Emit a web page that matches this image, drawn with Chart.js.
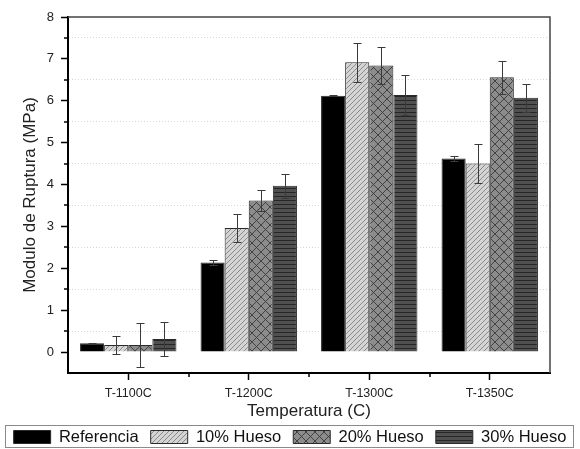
<!DOCTYPE html>
<html><head><meta charset="utf-8">
<script src="https://cdn.jsdelivr.net/npm/chart.js@4/dist/chart.umd.min.js"></script>
<style>html,body{margin:0;padding:0;background:#fff}#wrap{width:580px;height:449px}</style>
</head><body><div id="wrap"><canvas id="c" width="580" height="449"></canvas></div>
<script>
const categories = ['T-1100C','T-1200C','T-1300C','T-1350C'];
const seriesNames = ['Referencia','10% Hueso','20% Hueso','30% Hueso'];
const referencia = [0.21, 2.14, 6.12, 4.62];
const hueso10 = [0.17, 2.96, 6.92, 4.50];
const hueso20 = [0.17, 3.62, 6.84, 6.56];
const hueso30 = [0.31, 3.97, 6.14, 6.07];
const errReferencia = [0.01, 0.06, 0.01, 0.07];
const errHueso10 = [0.21, 0.33, 0.47, 0.47];
const errHueso20 = [0.53, 0.25, 0.45, 0.40];
const errHueso30 = [0.40, 0.29, 0.47, 0.34];
const yMin = -0.5, yMax = 8, yStep = 0.5;

const FONT = 'Liberation Sans, Arial, sans-serif';

function makePattern(size, base, line, lw, drawFn){
  const c = document.createElement('canvas');
  c.width = size[0]; c.height = size[1];
  const g = c.getContext('2d');
  g.fillStyle = base; g.fillRect(0,0,size[0],size[1]);
  g.strokeStyle = line; g.lineWidth = lw;
  drawFn(g, size[0], size[1]);
  return g.createPattern(c,'repeat');
}
const patDiag = makePattern([5,5], '#d4d4d4', '#8a8a8a', 1, (g,w,h)=>{
  g.beginPath();
  g.moveTo(-1,h+1); g.lineTo(w+1,-1);
  g.moveTo(-1,1); g.lineTo(1,-1);
  g.moveTo(w-1,h+1); g.lineTo(w+1,h-1);
  g.stroke();
});
const patCross = makePattern([9,9], '#8c8c8c', '#3a3a3a', 0.9, (g,w,h)=>{
  g.beginPath();
  g.moveTo(0,0); g.lineTo(w,h);
  g.moveTo(0,h); g.lineTo(w,0);
  g.stroke();
});
const patHoriz = makePattern([4,4], '#505050', '#262626', 1, (g,w,h)=>{
  g.beginPath(); g.moveTo(0,0.5); g.lineTo(w,0.5); g.stroke();
});

const values = [referencia, hueso10, hueso20, hueso30];
const errors = [errReferencia, errHueso10, errHueso20, errHueso30];
const fills = ['#000000', patDiag, patCross, patHoriz];

const errorBars = {
  id:'errorBars',
  afterDatasetsDraw(chart){
    const g = chart.ctx, ys = chart.scales.y;
    g.save();
    g.strokeStyle = '#3a3a3a'; g.lineWidth = 1;
    chart.data.datasets.forEach((ds, i)=>{
      const meta = chart.getDatasetMeta(i);
      meta.data.forEach((bar, j)=>{
        const v = ds.data[j], e = errors[i][j];
        const x = Math.round(bar.x)+0.5;
        const t = Math.round(ys.getPixelForValue(v+e))+0.5;
        const b = Math.round(ys.getPixelForValue(v-e))+0.5;
        g.beginPath();
        g.moveTo(x,t); g.lineTo(x,b);
        g.moveTo(x-4,t); g.lineTo(x+4,t);
        g.moveTo(x-4,b); g.lineTo(x+4,b);
        g.stroke();
      });
    });
    g.restore();
  }
};
const frame = {
  id:'frame',
  afterDraw(chart){
    const g = chart.ctx, a = chart.chartArea, xs = chart.scales.x, ys = chart.scales.y;
    g.save();
    g.strokeStyle = '#444'; g.lineWidth = 1.5;
    g.beginPath();
    g.moveTo(a.left, a.top); g.lineTo(a.right, a.top); g.lineTo(a.right, a.bottom);
    g.stroke();
    g.strokeStyle = '#000'; g.lineWidth = 1.5;
    g.beginPath();
    for (let i=0;i<categories.length-1;i++){
      const x = Math.round((xs.getPixelForTick(i)+xs.getPixelForTick(i+1))/2);
      g.moveTo(x, a.bottom); g.lineTo(x, a.bottom+4);
    }
    for (let v=yMin+yStep; v<yMax; v+=yStep){
      if (Number.isInteger(v)) continue;
      const y = Math.round(ys.getPixelForValue(v));
      g.moveTo(a.left, y); g.lineTo(a.left-4, y);
    }
    g.stroke();
    const L = chart.legend;
    const hb = L.legendHitBoxes && L.legendHitBoxes[0];
    const cy = hb ? hb.top + hb.height/2 : L.top + L.height/2;
    g.strokeStyle = '#8a8a8a'; g.lineWidth = 1;
    g.strokeRect(5.5, Math.round(cy-12)+0.5, 568, 22);
    g.restore();
  }
};

new Chart(document.getElementById('c'), {
  type:'bar',
  data:{
    labels: categories,
    datasets: seriesNames.map((n,i)=>({
      label:n, data:values[i], backgroundColor:fills[i],
      borderColor:'#2a2a2a', borderWidth:1,
      categoryPercentage:0.8, barPercentage:1.0
    }))
  },
  options:{
    responsive:false, animation:false, devicePixelRatio:1,
    layout:{padding:{left:0,right:0,top:17,bottom:-6.25}},
    plugins:{
      tooltip:{enabled:false},
      legend:{
        position:'bottom',
        labels:{font:{family:FONT, size:16.5}, color:'#111',
          boxWidth:37, boxHeight:13, padding:12}
      }
    },
    scales:{
      x:{
        offset:true,
        afterFit(s){ s.height = 43.75; },
        grid:{offset:false, drawOnChartArea:false, color:'#000', tickColor:'#000', tickLength:7, tickWidth:1.5},
        border:{color:'#000', width:2},
        ticks:{font:{family:FONT, size:12.5}, color:'#222', padding:6},
        title:{display:true, text:'Temperatura (C)', font:{family:FONT, size:17, lineHeight:1}, color:'#222', padding:{top:0,bottom:-3}}
      },
      y:{
        min:yMin, max:yMax,
        afterFit(s){ s.width = 68; },
        ticks:{stepSize:yStep, autoSkip:false,
          callback:(v)=> Number.isInteger(v) ? String(v) : '',
          font:{family:FONT, size:13}, color:'#222', padding:7},
        grid:{
          color:(c)=> (c.tick && !Number.isInteger(c.tick.value) && c.tick.value>0 && c.tick.value<yMax) ? 'rgba(0,0,0,0.16)' : 'rgba(0,0,0,0)',
          tickColor:(c)=> (c.tick && Number.isInteger(c.tick.value)) ? '#000' : 'rgba(0,0,0,0)',
          tickLength:7, tickWidth:1.5, lineWidth:1
        },
        border:{color:'#000', width:2, dash:[1,2]},
        title:{display:true, text:'Modulo de Ruptura (MPa)', font:{family:FONT, size:17, lineHeight:1}, color:'#222', padding:{top:22,bottom:0}}
      },
      yR:{
        position:'right', min:yMin, max:yMax,
        afterFit(s){ s.width = 30; },
        grid:{drawOnChartArea:false, drawTicks:false},
        ticks:{display:false},
        border:{display:false}
      }
    }
  },
  plugins:[errorBars, frame]
});
</script>
</body></html>
